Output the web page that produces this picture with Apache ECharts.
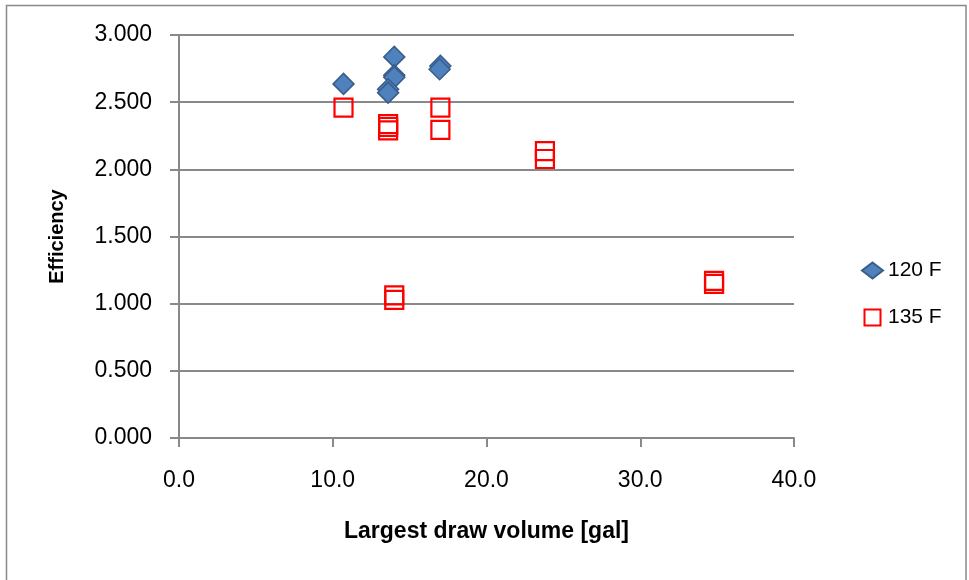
<!DOCTYPE html>
<html>
<head>
<meta charset="utf-8">
<script src="https://cdn.jsdelivr.net/npm/echarts@6/dist/echarts.min.js"></script>
<style>
  html, body { margin: 0; padding: 0; background: #ffffff; }
  #chart { width: 969px; height: 580px; }
</style>
</head>
<body>
<div id="chart"></div>
<script>
// Largest draw volume [gal] vs efficiency at two set-point temperatures
const seriesNames = ['120 F', '135 F'];

const volume120 = [10.7, 14.0, 14.0, 14.0, 13.6, 13.6, 17.0, 16.95];
const eff120    = [2.636, 2.837, 2.700, 2.685, 2.596, 2.571, 2.770, 2.745];

const volume135 = [10.7, 13.6, 13.6, 13.6, 17.0, 17.0, 14.0, 14.0, 23.8, 23.8, 34.8, 34.8];
const eff135    = [2.459, 2.337, 2.315, 2.290, 2.459, 2.293, 1.061, 1.028, 2.135, 2.077, 1.170, 1.148];

const xTicks = { min: 0, max: 40, interval: 10 };
const yTicks = { min: 0, max: 3, interval: 0.5 };

const pairs = (xs, ys) => xs.map((x, i) => [x, ys[i]]);

const FONT = '"Liberation Sans", Arial, sans-serif';
const GRAY = '#898989';

const chart = echarts.init(document.getElementById('chart'), null, { renderer: 'canvas' });

chart.setOption({
  backgroundColor: '#ffffff',
  animation: false,
  textStyle: { fontFamily: FONT, color: '#000' },
  graphic: [{
    type: 'rect',
    shape: { x: 6.5, y: 5.5, width: 959.5, height: 600 },
    style: { fill: 'none', stroke: GRAY, lineWidth: 1.5 },
    silent: true
  }],
  grid: { left: 179, top: 35, width: 615, height: 403 },
  legend: {
    orient: 'vertical',
    left: 856,
    top: 255,
    itemWidth: 21,
    itemHeight: 16,
    itemGap: 26,
    symbolKeepAspect: true,
    textStyle: { fontFamily: FONT, fontSize: 21, color: '#000', lineHeight: 21 },
    data: [
      { name: seriesNames[0], icon: 'path://M10.5,0L21,8L10.5,16L0,8Z' },
      { name: seriesNames[1], icon: 'path://M0,0H15V15H0Z' }
    ]
  },
  xAxis: {
    type: 'value',
    min: xTicks.min, max: xTicks.max, interval: xTicks.interval,
    name: 'Largest draw volume [gal]',
    nameLocation: 'middle',
    nameGap: 82,
    nameTextStyle: { fontFamily: FONT, fontSize: 23, fontWeight: 'bold', color: '#000' },
    axisLine: { show: true, lineStyle: { color: GRAY, width: 2 } },
    axisTick: { show: true, inside: false, length: 9, lineStyle: { color: GRAY, width: 2 } },
    axisLabel: { fontFamily: FONT, fontSize: 23, color: '#000', margin: 31,
                 formatter: v => v.toFixed(1) },
    splitLine: { show: false }
  },
  yAxis: {
    type: 'value',
    min: yTicks.min, max: yTicks.max, interval: yTicks.interval,
    name: 'Efficiency',
    nameLocation: 'middle',
    nameGap: 112,
    nameTextStyle: { fontFamily: FONT, fontSize: 20, fontWeight: 'bold', color: '#000' },
    axisLine: { show: true, lineStyle: { color: GRAY, width: 2 } },
    axisTick: { show: true, inside: false, length: 9, lineStyle: { color: GRAY, width: 2 } },
    axisLabel: { fontFamily: FONT, fontSize: 23, color: '#000', margin: 27,
                 formatter: v => v.toFixed(3) },
    splitLine: { show: true, lineStyle: { color: GRAY, width: 2 } }
  },
  series: [
    {
      name: seriesNames[0],
      type: 'scatter',
      symbol: 'diamond',
      symbolSize: 21,
      itemStyle: { color: '#4F81BD', borderColor: '#385D8A', borderWidth: 1.5, opacity: 1 },
      data: pairs(volume120, eff120)
    },
    {
      name: seriesNames[1],
      type: 'scatter',
      symbol: 'rect',
      symbolSize: 18,
      itemStyle: { color: 'rgba(255,255,255,0)', borderColor: '#FF0000', borderWidth: 2.2, opacity: 1 },
      data: pairs(volume135, eff135)
    }
  ]
});
</script>
</body>
</html>
